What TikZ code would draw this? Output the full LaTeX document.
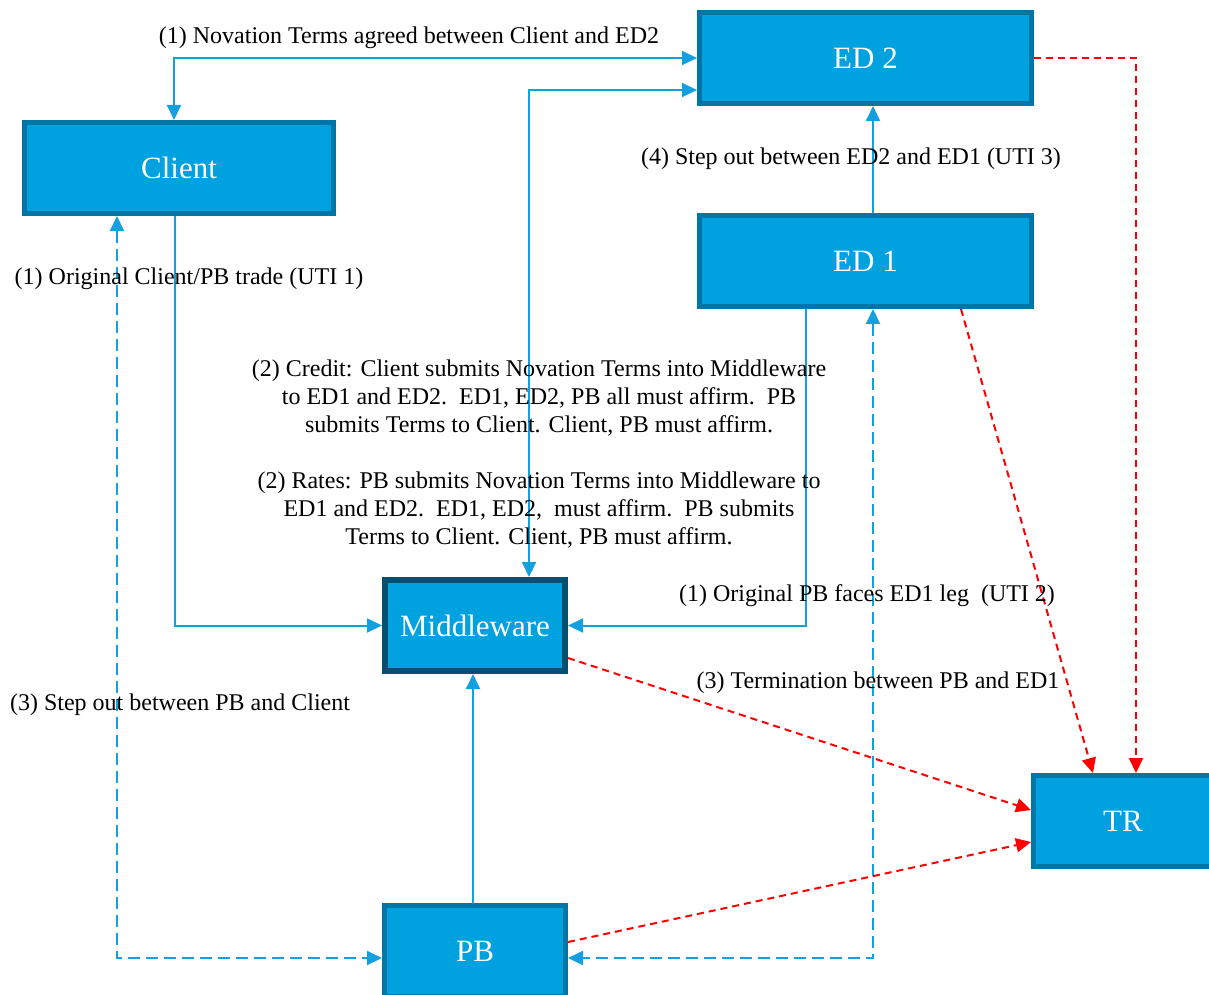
\documentclass[tikz,border=0pt]{standalone}
\usepackage{fontspec}
\setmainfont{Liberation Serif}
\usetikzlibrary{arrows.meta}
\definecolor{boxfill}{RGB}{0,161,223}
\definecolor{boxline}{RGB}{0,118,166}
\definecolor{mwline}{RGB}{0,80,112}
\definecolor{conncol}{RGB}{20,160,222}
\definecolor{redcol}{RGB}{255,0,0}
\tikzset{
  entity/.style={rectangle, fill=boxfill, draw=boxline, line width=5pt,
    minimum width=309pt, minimum height=91pt, text=white, inner sep=0pt,
    font=\fontsize{31}{34}\selectfont},
  tip/.style={-{Triangle[length=15pt,width=14pt]}},
  dtip/.style={{Triangle[length=15pt,width=14pt]}-{Triangle[length=15pt,width=14pt]}},
  conn/.style={draw=conncol, line width=2pt},
  dconn/.style={draw=conncol, line width=2pt, dash pattern=on 12pt off 6pt},
  rconn/.style={draw=redcol, line width=2pt, dash pattern=on 7pt off 5pt, -{Triangle[length=15pt,width=14pt]}},
  lbl/.style={inner sep=0pt, font=\fontsize{24}{28}\selectfont, align=center}
}
\begin{document}
\begin{tikzpicture}[x=1pt,y=-1pt]
\useasboundingbox (0,0) rectangle (1209,995);
% boxes
\node[entity] (client) at (179,168) {Client};
\node[entity, minimum width=332pt] (ed2) at (865.5,58) {ED 2};
\node[entity, minimum width=332pt] (ed1) at (865.5,261) {ED 1};
\node[entity, draw=mwline, line width=6pt, minimum width=180pt] (mw) at (475,625.5) {Middleware};
\node[entity, minimum width=181pt] (pb) at (475,951) {PB};
\node[entity, minimum width=179pt] (tr) at (1123,821) {TR};
% solid blue connectors
\draw[conn,dtip] (ed2.west) -| (client.north -| 174,0);
\draw[conn,dtip] (mw.north -| 529,0) |- (ed2.west |- 0,90);
\draw[conn,tip] (client.south -| 175,0) |- (mw.west);
\draw[conn,tip] (ed1.south -| 806,0) |- (mw.east);
\draw[conn,tip] (ed1.north -| 873,0) -- (ed2.south -| 873,0);
\draw[conn,tip] (pb.north -| 473,0) -- (mw.south -| 473,0);
% dashed blue connectors
\draw[dconn,dtip] (client.south -| 117,0) |- (pb.west |- 0,958);
\draw[dconn,dtip] (ed1.south -| 873,0) |- (pb.east |- 0,958);
% red dashed connectors
\draw[rconn] (ed2.east) -| (tr.north -| 1136,0);
\draw[rconn] (ed1.south -| 961,0) -- (tr.north -| 1093,0);
\draw[rconn] (mw.east |- 0,658) -- (tr.west |- 0,810);
\draw[rconn] (pb.east |- 0,942) -- (tr.west |- 0,842);
% labels
\node[lbl] (l1) at (409,38) {(1) Novation Terms agreed between Client and ED2};
\node[lbl] (l4) at (851,159) {(4) Step out between ED2 and ED1 (UTI 3)};
\node[lbl] (lo) at (189,279) {(1) Original Client/PB trade (UTI 1)};
\node[lbl] (lcr) at (539,398) {(2) Credit: Client submits Novation Terms into Middleware\\to ED1 and ED2.\ \ ED1, ED2, PB all must affirm.\ \ PB\\submits Terms to Client. Client, PB must affirm.};
\node[lbl] (lra) at (539,510) {(2) Rates: PB submits Novation Terms into Middleware to\\ED1 and ED2.\ \ ED1, ED2,\ \ must affirm.\ \ PB submits\\Terms to Client. Client, PB must affirm.};
\node[lbl] (lpb) at (867,596) {(1) Original PB faces ED1 leg\ \ (UTI 2)};
\node[lbl] (lt) at (878,683) {(3) Termination between PB and ED1};
\node[lbl] (ls) at (180,705) {(3) Step out between PB and Client};
\end{tikzpicture}
\end{document}
